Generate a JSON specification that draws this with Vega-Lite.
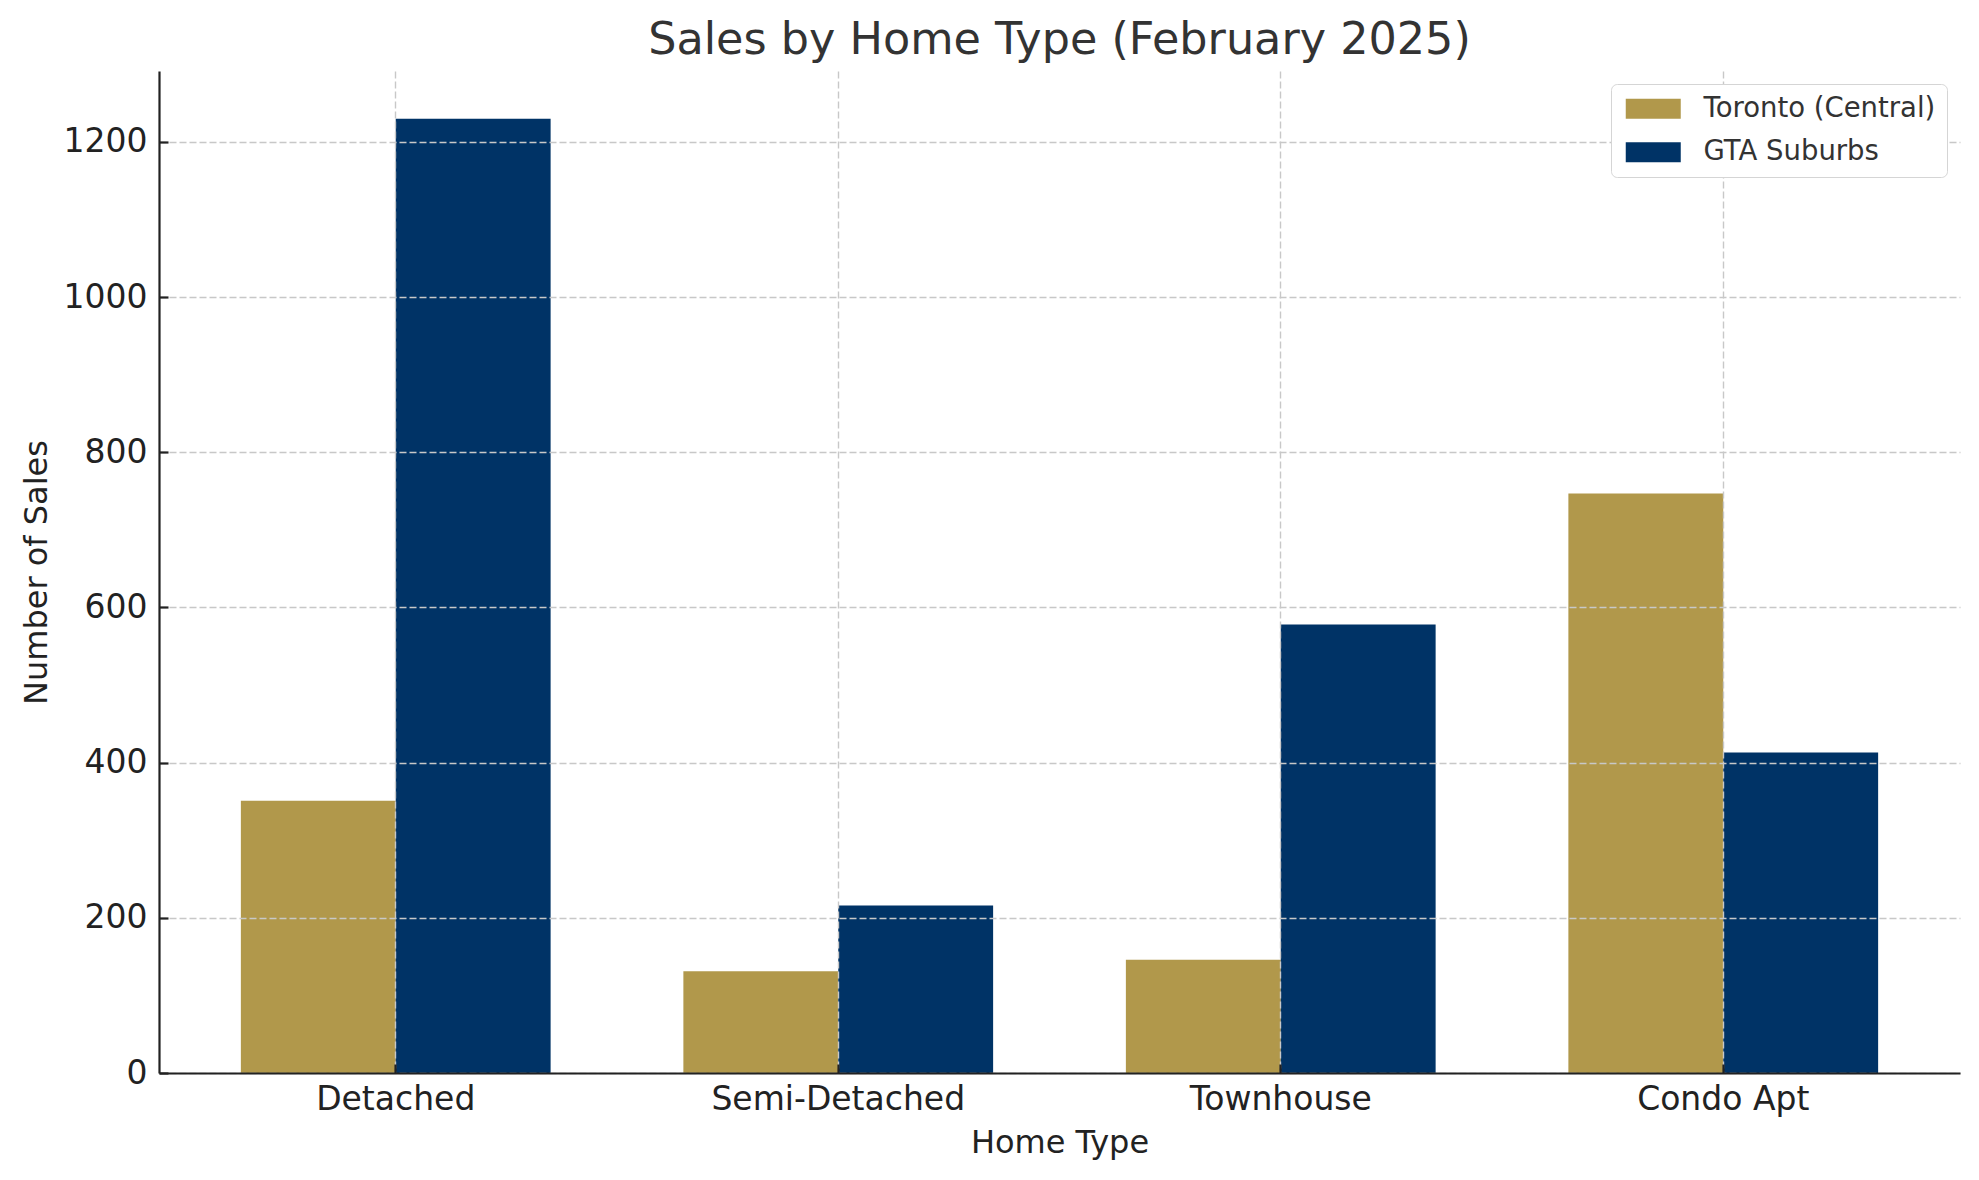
{
  "$schema": "https://vega.github.io/schema/vega-lite/v6.json",
  "autosize": {"type": "none"},
  "width": 1801,
  "height": 1002,
  "padding": {"left": 159, "top": 71, "right": 19, "bottom": 107},
  "background": "white",
  "title": {
    "text": "Sales by Home Type (February 2025)",
    "font": "DejaVu Sans",
    "fontSize": 44.5,
    "fontWeight": "normal",
    "color": "#333333",
    "anchor": "middle",
    "offset": 8
  },
  "config": {
    "view": {"stroke": null},
    "font": "DejaVu Sans"
  },
  "data": {
    "values": [
      {"type": "Detached", "region": "Toronto (Central)", "sales": 351},
      {"type": "Detached", "region": "GTA Suburbs", "sales": 1230},
      {"type": "Semi-Detached", "region": "Toronto (Central)", "sales": 131},
      {"type": "Semi-Detached", "region": "GTA Suburbs", "sales": 216},
      {"type": "Townhouse", "region": "Toronto (Central)", "sales": 146},
      {"type": "Townhouse", "region": "GTA Suburbs", "sales": 578},
      {"type": "Condo Apt", "region": "Toronto (Central)", "sales": 747},
      {"type": "Condo Apt", "region": "GTA Suburbs", "sales": 413}
    ]
  },
  "mark": {"type": "bar"},
  "encoding": {
    "x": {
      "field": "type",
      "type": "nominal",
      "sort": ["Detached", "Semi-Detached", "Townhouse", "Condo Apt"],
      "scale": {"paddingInner": 0.3, "paddingOuter": 0.185},
      "axis": {
        "title": "Home Type",
        "titleFontSize": 32,
        "titleFontWeight": "normal",
        "titleColor": "#222222",
        "titlePadding": 11,
        "labelFontSize": 33,
        "labelColor": "#222222",
        "labelAngle": 0,
        "labelPadding": 19,
        "labelLimit": 0,
        "domainColor": "#222222",
        "domainWidth": 2.2,
        "tickColor": "#222222",
        "tickWidth": 2.2,
        "tickSize": -9,
        "bandPosition": 0.5,
        "grid": true,
        "gridColor": "#c8c8c8",
        "gridDash": [7, 3],
        "gridWidth": 1.4,
        "zindex": 1
      }
    },
    "xOffset": {
      "field": "region",
      "type": "nominal",
      "sort": ["Toronto (Central)", "GTA Suburbs"],
      "scale": {"paddingInner": 0, "paddingOuter": 0}
    },
    "y": {
      "field": "sales",
      "type": "quantitative",
      "scale": {"domain": [0, 1291.5], "nice": false, "zero": true},
      "axis": {
        "title": "Number of Sales",
        "titleFontSize": 32,
        "titleFontWeight": "normal",
        "titleColor": "#222222",
        "titlePadding": 10,
        "labelFontSize": 33,
        "labelColor": "#222222",
        "labelPadding": 21,
        "format": "d",
        "values": [0, 200, 400, 600, 800, 1000, 1200],
        "domainColor": "#222222",
        "domainWidth": 2.2,
        "tickColor": "#222222",
        "tickWidth": 2.2,
        "tickSize": -9,
        "grid": true,
        "gridColor": "#c8c8c8",
        "gridDash": [7, 3],
        "gridWidth": 1.4,
        "zindex": 1
      }
    },
    "color": {
      "field": "region",
      "type": "nominal",
      "sort": ["Toronto (Central)", "GTA Suburbs"],
      "scale": {"domain": ["Toronto (Central)", "GTA Suburbs"], "range": ["#b1984b", "#003366"]},
      "legend": {
        "title": null,
        "orient": "top-right",
        "offset": 13,
        "padding": 11,
        "fillColor": "white",
        "strokeColor": "#d5d5d5",
        "cornerRadius": 6,
        "symbolType": "M-1,-1H4.5V1H-1Z",
        "symbolSize": 400,
        "symbolStrokeWidth": 0,
        "symbolOpacity": 1,
        "labelFontSize": 27.5,
        "labelColor": "#333333",
        "labelOffset": 54,
        "labelLimit": 0,
        "rowPadding": 14.5,
        "zindex": 2
      }
    }
  }
}
